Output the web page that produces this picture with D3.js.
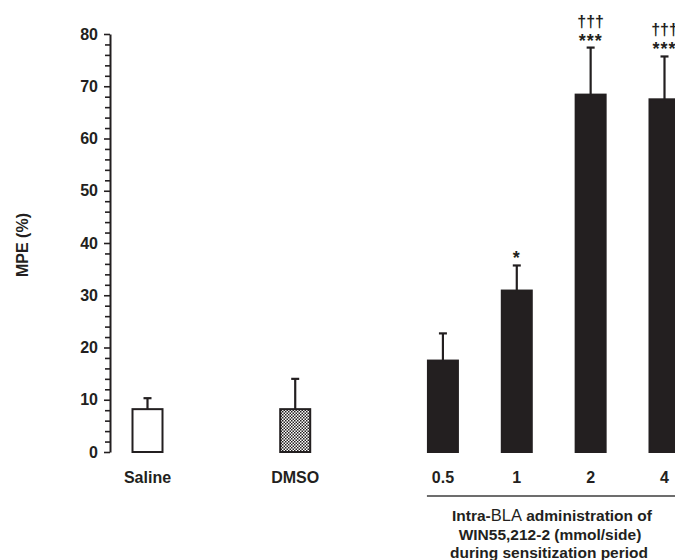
<!DOCTYPE html>
<html>
<head>
<meta charset="utf-8">
<script src="https://cdn.jsdelivr.net/npm/d3@7"></script>
<style>
  body { margin: 0; background: #fff; }
  svg text { font-family: "Liberation Sans", Arial, sans-serif; fill: #231f20; }
</style>
</head>
<body>
<div id="chart"></div>
<script>
// groups, slot on the x axis, mean MPE and upper SEM end
var groups = ["Saline", "DMSO", "0.5", "1", "2", "4"];
var slots = [0, 2, 4, 5, 6, 7];
var means = [8.2, 8.2, 17.5, 30.9, 68.4, 67.5];
var errTops = [10.3, 14.0, 22.7, 35.7, 77.4, 75.7];
var stars = ["", "", "", "*", "***", "***"];
var daggers = ["", "", "", "", "\u2020\u2020\u2020", "\u2020\u2020\u2020"];
var fills = ["white", "url(#checks)", "#231f20", "#231f20", "#231f20", "#231f20"];
var yTicks = [0, 10, 20, 30, 40, 50, 60, 70, 80];
var xTitle = ["Intra-BLA administration of", "WIN55,212-2 (mmol/side)", "during sensitization period"];

var data = groups.map(function(g, i) {
  return {name: g, slot: slots[i], mean: means[i], top: errTops[i], star: stars[i], dag: daggers[i], fill: fills[i]};
});

var W = 675, H = 560;
var svg = d3.select("#chart").append("svg").attr("width", W).attr("height", H);

var defs = svg.append("defs");
var pat = defs.append("pattern").attr("id", "checks").attr("patternUnits", "userSpaceOnUse")
  .attr("width", 3).attr("height", 3);
pat.append("rect").attr("width", 3).attr("height", 3).attr("fill", "#fff");
pat.append("rect").attr("width", 1.5).attr("height", 1.5).attr("fill", "#231f20");
pat.append("rect").attr("x", 1.5).attr("y", 1.5).attr("width", 1.5).attr("height", 1.5).attr("fill", "#231f20");

var x = d3.scaleLinear().domain([0, 7]).range([147.5, 664.5]);
var y = d3.scaleLinear().domain([0, 80]).range([452, 34]);
var barW = 30;

// y axis: minor ticks every 2, labels every 10
var yAxis = d3.axisLeft(y)
  .tickValues(d3.range(0, 81, 2))
  .tickSize(6).tickSizeOuter(0)
  .tickFormat(function(d) { return yTicks.indexOf(d) >= 0 ? d : ""; });
var gy = svg.append("g").attr("transform", "translate(110,0)").call(yAxis);
gy.select(".domain").attr("stroke", "#231f20").attr("stroke-width", 2);
gy.selectAll(".tick line").attr("stroke", "#231f20").attr("stroke-width", 1.6)
  .attr("x2", function(d) { return d % 10 === 0 ? -6 : -5; });
gy.selectAll(".tick text").attr("x", -12).attr("font-size", 16).attr("font-weight", "bold")
  .style("font-family", "Liberation Sans, Arial, sans-serif").attr("fill", "#231f20");

svg.append("text").attr("transform", "translate(28,245) rotate(-90)")
  .attr("text-anchor", "middle").attr("font-size", 16).attr("font-weight", "bold")
  .text("MPE (%)");

// error bars (upper only)
var eb = svg.append("g").attr("stroke", "#231f20").attr("stroke-width", 2.2);
eb.selectAll("line.v").data(data).enter().append("line")
  .attr("x1", function(d) { return x(d.slot); }).attr("x2", function(d) { return x(d.slot); })
  .attr("y1", function(d) { return y(d.mean); }).attr("y2", function(d) { return y(d.top); });
eb.selectAll("line.c").data(data).enter().append("line")
  .attr("x1", function(d) { return x(d.slot) - 4; }).attr("x2", function(d) { return x(d.slot) + 4; })
  .attr("y1", function(d) { return y(d.top); }).attr("y2", function(d) { return y(d.top); });

// bars
svg.selectAll("rect.bar").data(data).enter().append("rect")
  .attr("class", "bar")
  .attr("x", function(d) { return x(d.slot) - barW / 2; })
  .attr("y", function(d) { return y(d.mean); })
  .attr("width", barW)
  .attr("height", function(d) { return y(0) - y(d.mean); })
  .attr("fill", function(d) { return d.fill; })
  .attr("stroke", "#231f20").attr("stroke-width", 2);

// significance marks
svg.selectAll("text.star").data(data).enter().append("text")
  .attr("x", function(d) { return x(d.slot); })
  .attr("y", function(d) { return y(d.top) - 1; })
  .attr("text-anchor", "middle").attr("font-size", 18).attr("font-weight", "bold")
  .attr("letter-spacing", 1)
  .text(function(d) { return d.star; });
svg.selectAll("text.dag").data(data).enter().append("text")
  .attr("x", function(d) { return x(d.slot); })
  .attr("y", function(d) { return y(d.top) - 21; })
  .attr("text-anchor", "middle").attr("font-size", 16).attr("font-weight", "bold")
  .text(function(d) { return d.dag; });

// category labels
svg.selectAll("text.cat").data(data).enter().append("text")
  .attr("x", function(d) { return x(d.slot); })
  .attr("y", 483)
  .attr("text-anchor", "middle").attr("font-size", 16).attr("font-weight", "bold")
  .text(function(d) { return d.name; });

// bracket line under the dose groups
svg.append("line")
  .attr("x1", x(4) - barW / 2 - 1).attr("x2", W)
  .attr("y1", 496).attr("y2", 496)
  .attr("stroke", "#6d6d6d").attr("stroke-width", 2);

var tt = svg.append("g").attr("font-size", 15.5).attr("font-weight", "bold");
var t0 = tt.append("text").attr("x", 552).attr("y", 521).attr("text-anchor", "middle");
t0.append("tspan").text("Intra-");
t0.append("tspan").attr("font-weight", "normal").attr("font-size", 16.5).text("BLA");
t0.append("tspan").text(" administration of");
tt.append("text").attr("x", 550).attr("y", 540).attr("text-anchor", "middle").text(xTitle[1]);
tt.append("text").attr("x", 549).attr("y", 558).attr("text-anchor", "middle").text(xTitle[2]);
</script>
</body>
</html>
